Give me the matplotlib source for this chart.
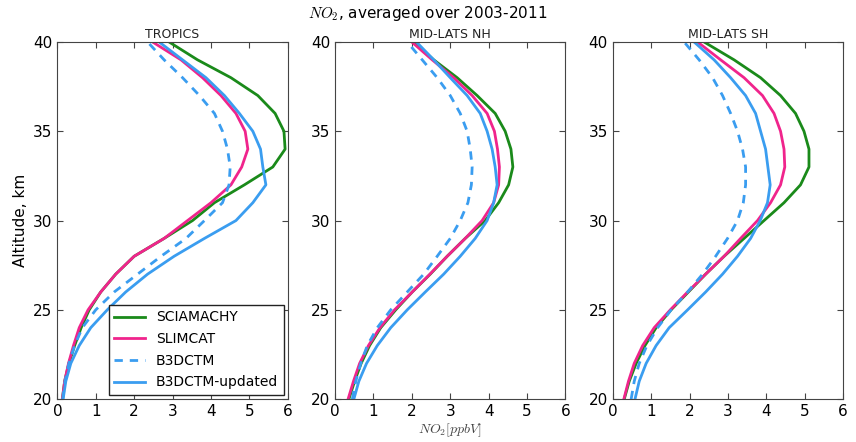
import numpy as np
import matplotlib
matplotlib.use('Agg')
import matplotlib.pyplot as plt

plt.rcParams['mathtext.fontset'] = 'cm'

altitude = np.arange(20, 41)

regions = ['TROPICS', 'MID-LATS NH', 'MID-LATS SH']

# NO2 profiles (ppbV), from 20 km up to 40 km
sciamachy = {
    'TROPICS': [0.13, 0.19, 0.30, 0.45, 0.62, 0.83, 1.13, 1.52, 2.00, 2.78, 3.52,
                4.09, 4.87, 5.61, 5.93, 5.90, 5.67, 5.22, 4.52, 3.65, 2.91],
    'MID-LATS NH': [0.36, 0.51, 0.68, 0.90, 1.19, 1.58, 2.01, 2.48, 2.92, 3.39, 3.91,
                    4.26, 4.52, 4.63, 4.58, 4.43, 4.17, 3.70, 3.18, 2.57, 2.05],
    'MID-LATS SH': [0.30, 0.43, 0.61, 0.84, 1.13, 1.52, 1.97, 2.42, 2.90, 3.42, 3.94,
                    4.46, 4.89, 5.11, 5.11, 4.98, 4.76, 4.37, 3.85, 3.16, 2.38],
}
slimcat = {
    'TROPICS': [0.13, 0.19, 0.29, 0.42, 0.57, 0.80, 1.13, 1.52, 2.00, 2.78, 3.39,
                4.00, 4.52, 4.80, 4.96, 4.89, 4.65, 4.26, 3.78, 3.22, 2.48],
    'MID-LATS NH': [0.34, 0.48, 0.64, 0.87, 1.17, 1.55, 2.01, 2.47, 2.92, 3.39, 3.83,
                    4.13, 4.26, 4.28, 4.23, 4.15, 3.96, 3.57, 3.09, 2.53, 2.00],
    'MID-LATS SH': [0.29, 0.41, 0.56, 0.78, 1.08, 1.50, 1.95, 2.42, 2.90, 3.33, 3.77,
                    4.11, 4.37, 4.48, 4.46, 4.37, 4.20, 3.90, 3.42, 2.81, 2.21],
}
b3dctm = {
    'TROPICS': [0.14, 0.20, 0.30, 0.45, 0.65, 1.00, 1.48, 2.09, 2.70, 3.35, 3.83,
                4.30, 4.47, 4.50, 4.43, 4.30, 4.09, 3.70, 3.26, 2.78, 2.35],
    'MID-LATS NH': [0.45, 0.54, 0.67, 0.84, 1.10, 1.45, 1.88, 2.31, 2.66, 3.00, 3.26,
                    3.46, 3.55, 3.57, 3.52, 3.44, 3.26, 3.00, 2.66, 2.27, 1.88],
    'MID-LATS SH': [0.48, 0.56, 0.69, 0.89, 1.17, 1.52, 1.95, 2.34, 2.68, 2.99, 3.25,
                    3.40, 3.46, 3.46, 3.38, 3.25, 3.07, 2.86, 2.60, 2.25, 1.86],
}
b3dctm_upd = {
    'TROPICS': [0.15, 0.22, 0.35, 0.57, 0.87, 1.30, 1.78, 2.35, 3.04, 3.83, 4.65,
                5.09, 5.43, 5.35, 5.29, 5.09, 4.74, 4.35, 3.87, 3.26, 2.65],
    'MID-LATS NH': [0.49, 0.62, 0.82, 1.10, 1.45, 1.88, 2.35, 2.83, 3.26, 3.65, 3.96,
                    4.13, 4.22, 4.17, 4.09, 3.96, 3.78, 3.44, 3.00, 2.57, 2.12],
    'MID-LATS SH': [0.58, 0.69, 0.87, 1.13, 1.47, 1.95, 2.42, 2.86, 3.25, 3.59, 3.84,
                    4.03, 4.10, 4.04, 3.98, 3.85, 3.72, 3.46, 3.07, 2.64, 2.12],
}

fig, axes = plt.subplots(1, 3, figsize=(8.56, 4.42), dpi=100)
fig.subplots_adjust(left=0.067, right=0.985, top=0.905, bottom=0.097, wspace=0.205)

for ax, reg in zip(axes, regions):
    ax.plot(sciamachy[reg], altitude, color='#1a8a1a', lw=2, label='SCIAMACHY')
    ax.plot(slimcat[reg], altitude, color='#f0248c', lw=2, label='SLIMCAT')
    ax.plot(b3dctm[reg], altitude, color='#3a9df0', lw=2, ls='--', dashes=(3, 2.5),
            label='B3DCTM')
    ax.plot(b3dctm_upd[reg], altitude, color='#3a9df0', lw=2, label='B3DCTM-updated')
    ax.set_xlim(0, 6)
    ax.set_ylim(20, 40)
    ax.set_xticks(range(0, 7))
    ax.set_yticks(range(20, 41, 5))
    ax.tick_params(direction='in', top=True, right=True, labelsize=11, length=4,
                   color='#444444')
    for s in ax.spines.values():
        s.set_color('#444444')
    ax.set_title(reg, fontsize=9, pad=3, color='#222222')

axes[0].set_ylabel('Altitude, km', fontsize=11)
axes[1].set_xlabel(r'$NO_2[ppbV]$', fontsize=10, labelpad=2, color='#444444')
leg = axes[0].legend(loc='lower right', fontsize=10, handlelength=2.2,
                     labelspacing=0.55, borderaxespad=0.3, fancybox=False,
                     framealpha=1)
leg.get_frame().set_edgecolor('#222222')

fig.suptitle(r'$NO_2$, averaged over 2003-2011', fontsize=11, y=0.99)

fig.savefig('out.png', dpi=100)
